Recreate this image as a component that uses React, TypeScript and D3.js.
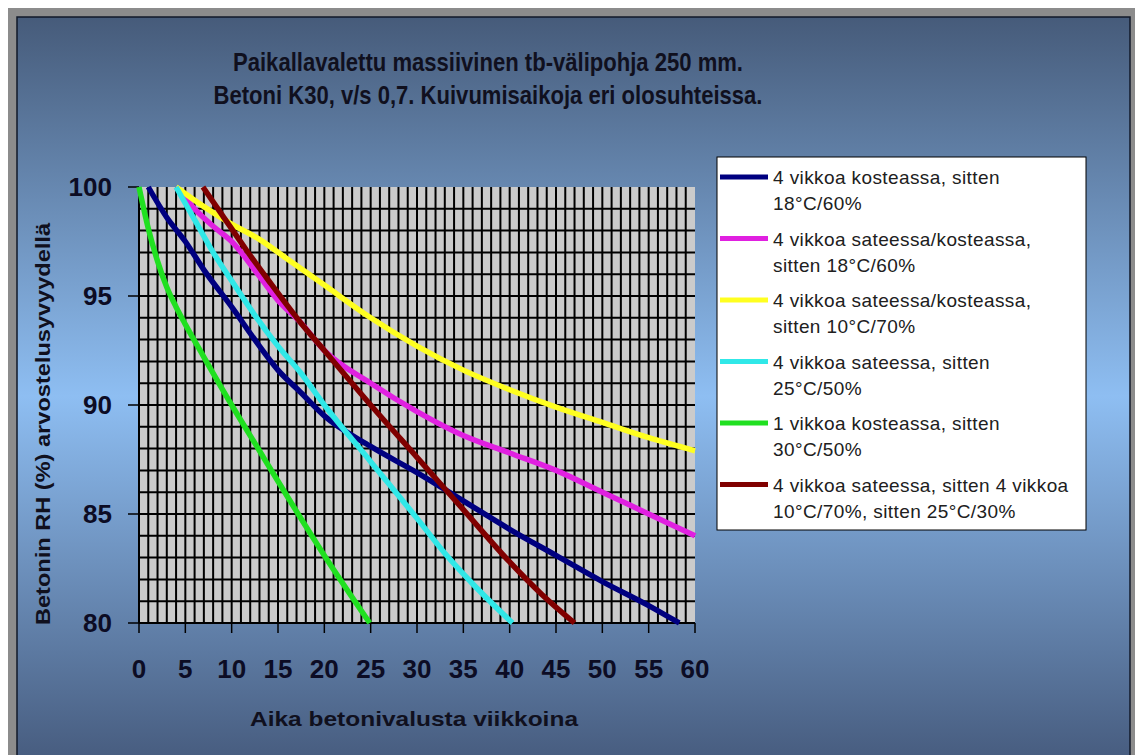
import React, { useEffect, useRef } from 'react';
import * as d3 from 'd3';

// drying curves: [week, RH %]
const navyPoints: [number, number][] = [[1, 100], [3, 98.6], [5, 97.5], [7, 96.2], [10, 94.5], [13, 92.7], [15, 91.6], [17.4, 90.6], [20, 89.5], [25, 88.1], [30, 86.9], [35, 85.6], [40, 84.3], [45, 83.1], [50, 81.9], [55, 80.8], [58.3, 80]];
const magentaPoints: [number, number][] = [[4, 100], [6, 99], [8, 98.2], [10, 97.5], [13, 95.9], [15, 94.8], [17.4, 93.8], [20, 92.5], [25, 91], [30, 89.7], [35, 88.6], [40, 87.8], [45, 87], [50, 86], [55, 85], [60, 84]];
const yellowPoints: [number, number][] = [[4, 100], [7, 99.1], [10, 98.3], [13, 97.6], [16, 96.7], [20, 95.5], [25, 94], [30, 92.7], [35, 91.6], [40, 90.7], [45, 89.9], [50, 89.2], [55, 88.5], [60, 87.9]];
const cyanPoints: [number, number][] = [[4, 100], [6, 98.5], [8, 97], [10, 95.7], [12.7, 94], [15, 92.7], [17.4, 91.5], [20, 90], [25, 87.4], [30, 84.8], [33, 83.2], [36, 81.8], [40.3, 80]];
const greenPoints: [number, number][] = [[0, 100], [1, 98.1], [2, 96.6], [3, 95.4], [4, 94.5], [5, 93.7], [7, 92.2], [10, 90], [13, 87.9], [15, 86.5], [20, 83.1], [24.9, 80]];
const darkRedPoints: [number, number][] = [[6.9, 100], [9, 98.7], [11.6, 97.1], [14, 95.7], [17.4, 93.8], [20, 92.5], [25, 90], [30, 87.6], [35, 85.2], [40, 82.8], [43.5, 81.3], [47, 80]];

const seriesNames: string[][] = [
  ['4 vikkoa kosteassa, sitten', '18°C/60%'],
  ['4 vikkoa sateessa/kosteassa,', 'sitten 18°C/60%'],
  ['4 vikkoa sateessa/kosteassa,', 'sitten 10°C/70%'],
  ['4 vikkoa sateessa, sitten', '25°C/50%'],
  ['1 vikkoa kosteassa, sitten', '30°C/50%'],
  ['4 vikkoa sateessa, sitten 4 vikkoa', '10°C/70%, sitten 25°C/30%'],
];
const seriesColors = ['#000080', '#e020e0', '#ffff20', '#30e8e8', '#20e020', '#800000'];
const seriesPoints = [navyPoints, magentaPoints, yellowPoints, cyanPoints, greenPoints, darkRedPoints];

const xTicks = [0, 5, 10, 15, 20, 25, 30, 35, 40, 45, 50, 55, 60];
const yTicks = [80, 85, 90, 95, 100];

const titleLines = [
  'Paikallavalettu massiivinen tb-välipohja 250 mm.',
  'Betoni K30, v/s 0,7. Kuivumisaikoja eri olosuhteissa.',
];
const xTitle = 'Aika betonivalusta viikkoina';
const yTitle = 'Betonin RH (%) arvostelusyvyydellä';

const App: React.FC = () => {
  const svgRef = useRef<SVGSVGElement>(null);

  useEffect(() => {
    if (svgRef.current == null) return;
    const width = 1135;
    const height = 755;
    const plot = { left: 139, right: 695, top: 187, bottom: 623 };
    const font = 'Arial, "Liberation Sans", sans-serif';

    const x = d3.scaleLinear().domain([0, 60]).range([plot.left, plot.right]);
    const y = d3.scaleLinear().domain([80, 100]).range([plot.bottom, plot.top]);

    const svg = d3.select(svgRef.current)
      .attr('width', width)
      .attr('height', height);
    svg.selectAll('*').remove();

    const grad = svg.append('defs').append('linearGradient')
      .attr('id', 'bg')
      .attr('gradientUnits', 'userSpaceOnUse')
      .attr('x1', 0).attr('y1', 17).attr('x2', 0).attr('y2', 775);
    grad.append('stop').attr('offset', 0).attr('stop-color', '#465b7a');
    grad.append('stop').attr('offset', 0.5).attr('stop-color', '#8ebef2');
    grad.append('stop').attr('offset', 1).attr('stop-color', '#44587a');

    // window frame + chart area
    svg.append('rect').attr('width', width).attr('height', height).attr('fill', '#ffffff');
    svg.append('rect').attr('x', 8).attr('y', 8).attr('width', width - 8).attr('height', height).attr('fill', '#8c8c8c');
    svg.append('rect').attr('x', 17).attr('y', 17).attr('width', 1113).attr('height', 780)
      .attr('fill', 'url(#bg)').attr('stroke', '#101828').attr('stroke-width', 1.5);

    // plot background
    svg.append('rect')
      .attr('x', plot.left).attr('y', plot.top)
      .attr('width', plot.right - plot.left).attr('height', plot.bottom - plot.top)
      .attr('fill', '#cbcbcb');

    const grid = svg.append('g').attr('stroke', '#000').attr('stroke-width', 2);
    d3.range(0, 60).forEach(v => {
      grid.append('line').attr('x1', x(v)).attr('x2', x(v)).attr('y1', plot.top).attr('y2', plot.bottom);
    });
    d3.range(80, 100).forEach(v => {
      grid.append('line').attr('x1', plot.left).attr('x2', plot.right).attr('y1', y(v)).attr('y2', y(v));
    });

    // ticks
    const ticks = svg.append('g').attr('stroke', '#000').attr('stroke-width', 1.5);
    xTicks.forEach(v => {
      ticks.append('line').attr('x1', x(v)).attr('x2', x(v)).attr('y1', plot.bottom).attr('y2', plot.bottom + 10);
    });
    yTicks.forEach(v => {
      ticks.append('line').attr('x1', plot.left - 11).attr('x2', plot.left).attr('y1', y(v)).attr('y2', y(v));
    });

    svg.append('g').selectAll('text').data(xTicks).join('text')
      .attr('x', d => x(d))
      .attr('y', 678)
      .attr('text-anchor', 'middle')
      .attr('font-family', font).attr('font-weight', 'bold').attr('font-size', 26)
      .attr('fill', '#0c0c24')
      .text(d => d);

    svg.append('g').selectAll('text').data(yTicks).join('text')
      .attr('x', 112)
      .attr('y', d => y(d) + 9)
      .attr('text-anchor', 'end')
      .attr('font-family', font).attr('font-weight', 'bold').attr('font-size', 26)
      .attr('fill', '#0c0c24')
      .text(d => d);

    // curves
    const line = d3.line<[number, number]>()
      .x(d => x(d[0]))
      .y(d => y(d[1]))
      .curve(d3.curveMonotoneX);
    seriesPoints.forEach((pts, i) => {
      svg.append('path')
        .attr('d', line(pts))
        .attr('fill', 'none')
        .attr('stroke', seriesColors[i])
        .attr('stroke-width', 5.5)
        .attr('stroke-linejoin', 'round');
    });

    // titles
    svg.append('text')
      .attr('x', 488).attr('y', 71)
      .attr('text-anchor', 'middle')
      .attr('font-family', font).attr('font-weight', 'bold').attr('font-size', 25)
      .attr('fill', '#10101e')
      .attr('textLength', 510).attr('lengthAdjust', 'spacingAndGlyphs')
      .text(titleLines[0]);
    svg.append('text')
      .attr('x', 488).attr('y', 104)
      .attr('text-anchor', 'middle')
      .attr('font-family', font).attr('font-weight', 'bold').attr('font-size', 25)
      .attr('fill', '#10101e')
      .attr('textLength', 549).attr('lengthAdjust', 'spacingAndGlyphs')
      .text(titleLines[1]);

    svg.append('text')
      .attr('x', 414).attr('y', 726)
      .attr('text-anchor', 'middle')
      .attr('font-family', font).attr('font-weight', 'bold').attr('font-size', 21)
      .attr('fill', '#10101e')
      .attr('textLength', 328).attr('lengthAdjust', 'spacingAndGlyphs')
      .text(xTitle);

    svg.append('text')
      .attr('transform', 'translate(50,424) rotate(-90)')
      .attr('text-anchor', 'middle')
      .attr('font-family', font).attr('font-weight', 'bold').attr('font-size', 20)
      .attr('fill', '#10101e')
      .attr('textLength', 402).attr('lengthAdjust', 'spacingAndGlyphs')
      .text(yTitle);

    // legend
    const legend = svg.append('g');
    legend.append('rect')
      .attr('x', 717).attr('y', 157).attr('width', 369).attr('height', 373)
      .attr('fill', '#ffffff').attr('stroke', '#000').attr('stroke-width', 1);
    seriesNames.forEach((lines, i) => {
      const cy = 177 + i * 61.5;
      legend.append('line')
        .attr('x1', 720).attr('x2', 768).attr('y1', cy).attr('y2', cy)
        .attr('stroke', seriesColors[i]).attr('stroke-width', 5);
      lines.forEach((t, j) => {
        legend.append('text')
          .attr('x', 773).attr('y', cy + 7 + j * 26)
          .attr('font-family', font).attr('font-size', 19)
          .attr('letter-spacing', 0.4)
          .attr('fill', '#202020')
          .text(t);
      });
    });
  }, []);

  return <svg ref={svgRef} style={{ position: 'absolute', left: 0, top: 0 }}></svg>;
};

export default App;
